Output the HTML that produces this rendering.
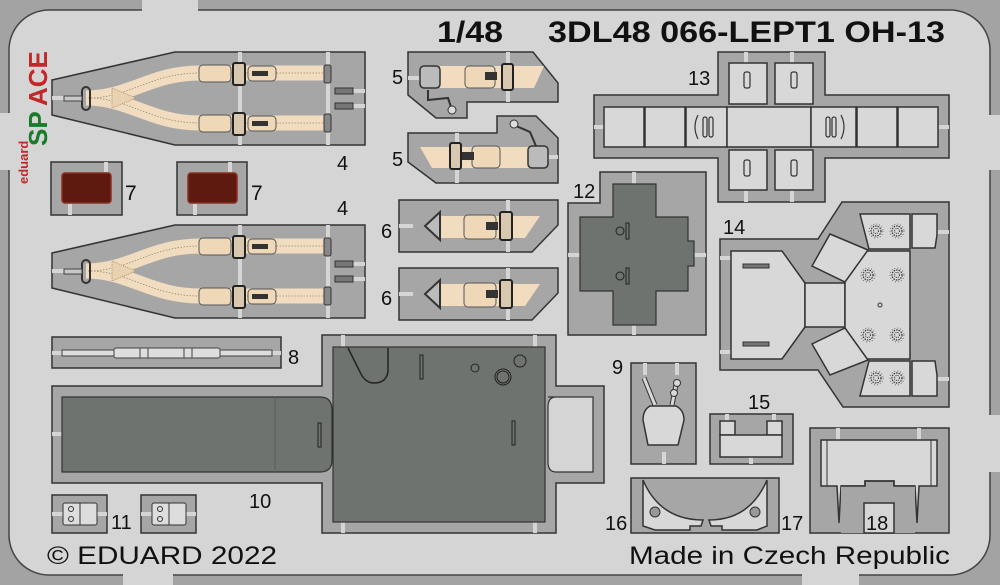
<!DOCTYPE html>
<html><head><meta charset="utf-8"><style>
html,body{margin:0;padding:0;background:#d5d5d5;}
svg{display:block;}
text{font-family:"Liberation Sans",sans-serif;fill:#111;}
</style></head><body>
<svg width="1000" height="585" viewBox="0 0 1000 585" xmlns="http://www.w3.org/2000/svg">
<defs>
<g id="ros"><circle r="5" fill="none" stroke="#333" stroke-width="1.2" stroke-dasharray="1.5 1"/><circle r="2.5" fill="none" stroke="#333" stroke-width="1" stroke-dasharray="1 1"/><circle r="7" fill="none" stroke="#555" stroke-width="0.8" stroke-dasharray="1 2"/></g>
<g id="belt4">
 <polygon points="52,80 175,52 365,52 365,145 175,145 52,115" fill="#a6a6a6" stroke="#333" stroke-width="1.5"/>
 <rect x="238" y="52" width="4" height="93" fill="#d5d5d5"/>
 <rect x="326" y="52" width="4" height="93" fill="#d5d5d5"/>
 <rect x="52" y="96" width="12" height="4" fill="#d5d5d5"/>
 <rect x="352" y="89" width="13" height="4" fill="#d5d5d5"/>
 <rect x="352" y="104" width="13" height="4" fill="#d5d5d5"/>
 <path d="M86,98 C130,98 150,73 200,73 L326,73" stroke="#f1dcbf" stroke-width="15" fill="none"/>
 <path d="M86,98 C130,98 150,123 200,123 L326,123" stroke="#f1dcbf" stroke-width="15" fill="none"/>
 <path d="M88,98 C130,98 150,73 200,73 L326,73 M88,98 C130,98 150,123 200,123 L326,123" stroke="#9a8a70" stroke-width="0.8" stroke-dasharray="1.5 1.5" fill="none"/>
 <polygon points="112,88 136,98 112,108" fill="#e8d2b0" stroke="#a08a6a" stroke-width="0.8" stroke-dasharray="1 1"/>
 <rect x="82" y="87" width="8" height="23" rx="4" fill="none" stroke="#333" stroke-width="2"/>
 <rect x="64" y="96" width="18" height="5" fill="#c8c8c8" stroke="#444"/>
 <rect x="199" y="65" width="32" height="17" rx="4" fill="#efd8b8" stroke="#555"/>
 <rect x="199" y="115" width="32" height="17" rx="4" fill="#efd8b8" stroke="#555"/>
 <rect x="233" y="63" width="12" height="22" rx="2" fill="#d8c8b0" stroke="#222" stroke-width="2"/>
 <rect x="233" y="113" width="12" height="22" rx="2" fill="#d8c8b0" stroke="#222" stroke-width="2"/>
 <rect x="248" y="66" width="28" height="15" rx="4" fill="#efd8b8" stroke="#555"/>
 <rect x="248" y="116" width="28" height="15" rx="4" fill="#efd8b8" stroke="#555"/>
 <rect x="252" y="71" width="16" height="5" fill="#333"/>
 <rect x="252" y="121" width="16" height="5" fill="#333"/>
 <rect x="324" y="65" width="7" height="18" rx="2" fill="#888" stroke="#333"/>
 <rect x="324" y="114" width="7" height="18" rx="2" fill="#888" stroke="#333"/>
 <rect x="335" y="88" width="18" height="6" fill="#777" stroke="#333"/>
 <rect x="335" y="103" width="18" height="6" fill="#777" stroke="#333"/>
</g>
<g id="p6">
 <polygon points="399,200 558,200 558,225 532,252 399,252" fill="#a6a6a6" stroke="#333" stroke-width="1.5"/>
 <rect x="506" y="200" width="4" height="52" fill="#d5d5d5"/>
 <rect x="399" y="224" width="14" height="4" fill="#d5d5d5"/>
 <polygon points="440,216 540,216 525,238 440,238" fill="#f1dcbf"/>
 <polygon points="425,226 440,212 440,240" fill="#bbb" stroke="#333" stroke-width="2"/>
 <rect x="464" y="215" width="32" height="24" rx="4" fill="#efd8b8" stroke="#555"/>
 <rect x="486" y="222" width="12" height="8" fill="#333"/>
 <rect x="500" y="212" width="12" height="28" rx="2" fill="#d8c8b0" stroke="#222" stroke-width="2"/>
</g>
</defs>

<!-- frame -->
<rect x="0" y="0" width="1000" height="585" fill="#a3a3a3"/>
<rect x="9" y="10" width="981" height="565" rx="40" fill="#d5d5d5" stroke="#444" stroke-width="1.5"/>
<rect x="142" y="0" width="56" height="11" fill="#d5d5d5"/>
<rect x="0" y="113" width="10" height="57" fill="#d5d5d5"/>
<rect x="989" y="115" width="11" height="55" fill="#d5d5d5"/>
<rect x="989" y="415" width="11" height="57" fill="#d5d5d5"/>
<rect x="123" y="574" width="50" height="11" fill="#d5d5d5"/>
<rect x="802" y="574" width="57" height="11" fill="#d5d5d5"/>

<!-- titles -->
<text x="437" y="42" font-size="30" font-weight="bold" textLength="66" lengthAdjust="spacingAndGlyphs">1/48</text>
<text x="548" y="42" font-size="30" font-weight="bold" textLength="397" lengthAdjust="spacingAndGlyphs">3DL48 066-LEPT1 OH-13</text>
<text x="47" y="564" font-size="25" textLength="230" lengthAdjust="spacingAndGlyphs">© EDUARD 2022</text>
<text x="629" y="564" font-size="25" textLength="321" lengthAdjust="spacingAndGlyphs">Made in Czech Republic</text>

<!-- logo -->
<g transform="translate(28,184) rotate(-90)"><text x="0" y="0" font-size="13" font-weight="bold" style="fill:#c0282a">eduard</text></g>
<g transform="translate(47,146) rotate(-90)"><text x="0" y="0" font-size="26" font-weight="bold" style="fill:#1a7a2a">SP</text></g>
<g transform="translate(47,106) rotate(-90)"><text x="0" y="0" font-size="26" font-weight="bold" style="fill:#c0282a">ACE</text></g>

<!-- parts 4 -->
<use href="#belt4"/>
<use href="#belt4" transform="translate(0,173)"/>
<text x="337" y="170" font-size="20">4</text>
<text x="337" y="215" font-size="20">4</text>

<!-- parts 7 -->
<rect x="51" y="162" width="71" height="53" fill="#a6a6a6" stroke="#333" stroke-width="1.5"/>
<rect x="104" y="162" width="4" height="10" fill="#d5d5d5"/><rect x="68" y="204" width="4" height="11" fill="#d5d5d5"/>
<rect x="62" y="173" width="49" height="30" rx="3" fill="#5e1a0e" stroke="#8a3020" stroke-width="1.5"/>
<rect x="177" y="162" width="70" height="53" fill="#a6a6a6" stroke="#333" stroke-width="1.5"/>
<rect x="228" y="162" width="4" height="10" fill="#d5d5d5"/><rect x="193" y="204" width="4" height="11" fill="#d5d5d5"/>
<rect x="188" y="173" width="49" height="30" rx="3" fill="#5e1a0e" stroke="#8a3020" stroke-width="1.5"/>
<text x="125" y="200" font-size="21">7</text>
<text x="251" y="200" font-size="21">7</text>

<!-- parts 5 -->
<polygon points="408,52 533,52 558,83 558,102 467,102 467,118 436,118 408,95" fill="#a6a6a6" stroke="#333" stroke-width="1.5"/>
<rect x="506" y="52" width="4" height="50" fill="#d5d5d5"/>
<rect x="408" y="76" width="14" height="4" fill="#d5d5d5"/>
<polygon points="440,66 544,66 534,88 440,88" fill="#f1dcbf"/>
<rect x="420" y="66" width="20" height="22" rx="4" fill="#bbb" stroke="#333" stroke-width="1.5"/>
<rect x="465" y="66" width="30" height="22" rx="4" fill="#efd8b8" stroke="#555"/>
<rect x="485" y="72" width="12" height="8" fill="#333"/>
<rect x="502" y="64" width="11" height="26" rx="2" fill="#d8c8b0" stroke="#222" stroke-width="2"/>
<path d="M428,90 L428,100 L448,98 L452,110" stroke="#333" stroke-width="2" fill="none"/>
<circle cx="452" cy="110" r="4" fill="#ddd" stroke="#333"/>
<polygon points="408,133 497,133 497,116 536,116 558,138 558,183 436,183 408,162" fill="#a6a6a6" stroke="#333" stroke-width="1.5"/>
<rect x="455" y="133" width="4" height="50" fill="#d5d5d5"/>
<rect x="544" y="155" width="14" height="4" fill="#d5d5d5"/>
<polygon points="420,147 532,147 532,168 432,168" fill="#f1dcbf"/>
<rect x="472" y="146" width="28" height="22" rx="4" fill="#efd8b8" stroke="#555"/>
<rect x="462" y="152" width="12" height="8" fill="#333"/>
<rect x="450" y="143" width="11" height="26" rx="2" fill="#d8c8b0" stroke="#222" stroke-width="2"/>
<rect x="528" y="146" width="20" height="22" rx="4" fill="#bbb" stroke="#333" stroke-width="1.5"/>
<path d="M514,125 L530,132 L536,146" stroke="#333" stroke-width="2" fill="none"/>
<circle cx="514" cy="124" r="4" fill="#ddd" stroke="#333"/>
<text x="392" y="84" font-size="20">5</text>
<text x="392" y="166" font-size="20">5</text>

<!-- parts 6 -->
<use href="#p6"/>
<use href="#p6" transform="translate(0,68)"/>
<text x="381" y="238" font-size="20">6</text>
<text x="381" y="305" font-size="20">6</text>

<!-- part 8 -->
<rect x="52" y="337" width="229" height="31" fill="#a6a6a6" stroke="#333" stroke-width="1.5"/>
<rect x="52" y="351" width="229" height="4" fill="#d5d5d5"/>
<rect x="62" y="350" width="52" height="6" fill="#ddd" stroke="#444"/>
<rect x="114" y="348" width="106" height="10" rx="2" fill="#ddd" stroke="#444"/>
<line x1="140" y1="348" x2="140" y2="358" stroke="#444"/><line x1="148" y1="348" x2="148" y2="358" stroke="#444"/>
<line x1="184" y1="348" x2="184" y2="358" stroke="#444"/><line x1="192" y1="348" x2="192" y2="358" stroke="#444"/>
<rect x="220" y="350" width="52" height="6" fill="#ddd" stroke="#444"/>
<text x="288" y="364" font-size="20">8</text>

<!-- part 10 -->
<path d="M52,386 L322,386 L322,335 L556,335 L556,386 L604,386 L604,483 L556,483 L556,533 L322,533 L322,483 L52,483 Z" fill="#a6a6a6" stroke="#333" stroke-width="1.5"/>
<rect x="341" y="335" width="4" height="12" fill="#d5d5d5"/><rect x="533" y="335" width="4" height="12" fill="#d5d5d5"/>
<rect x="341" y="522" width="4" height="11" fill="#d5d5d5"/><rect x="533" y="522" width="4" height="11" fill="#d5d5d5"/>
<rect x="52" y="432" width="10" height="4" fill="#d5d5d5"/>
<path d="M62,397 L320,397 Q332,397 332,410 L332,460 Q332,472 320,472 L62,472 Z" fill="#6e736f" stroke="#333" stroke-width="1.2"/>
<line x1="275" y1="397" x2="275" y2="472" stroke="#5a5f5b"/>
<rect x="333" y="347" width="212" height="175" fill="#6e736f" stroke="#333" stroke-width="1.2"/>
<path d="M548,397 L593,397 L593,472 L556,472 Q548,472 548,462 L548,407 Q548,397 556,397" fill="#d5d5d5" stroke="#333" stroke-width="1.2"/>
<path d="M348,348 L360,372 Q365,383 374,383 Q386,383 388,372 L388,348" fill="#6e736f" stroke="#222" stroke-width="1.5"/>
<rect x="420" y="355" width="3" height="24" fill="none" stroke="#222"/>
<rect x="318" y="423" width="3" height="24" fill="none" stroke="#222"/>
<rect x="512" y="421" width="3" height="24" fill="none" stroke="#222"/>
<circle cx="475" cy="368" r="4" fill="none" stroke="#222"/>
<circle cx="503" cy="377" r="8" fill="none" stroke="#222"/><circle cx="503" cy="377" r="6" fill="none" stroke="#222"/>
<circle cx="520" cy="361" r="6" fill="none" stroke="#222"/>
<text x="249" y="508" font-size="20">10</text>

<!-- part 11 -->
<g id="p11">
<rect x="52" y="495" width="55" height="38" fill="#a6a6a6" stroke="#333" stroke-width="1.5"/>
<rect x="52" y="512" width="55" height="4" fill="#d5d5d5"/>
<rect x="63" y="503" width="34" height="22" rx="2" fill="#ddd" stroke="#333"/>
<line x1="80" y1="503" x2="80" y2="525" stroke="#333"/>
<circle cx="71" cy="509" r="2.5" fill="none" stroke="#333"/><circle cx="71" cy="519" r="2.5" fill="none" stroke="#333"/>
</g>
<use href="#p11" transform="translate(89,0)"/>
<text x="111" y="529" font-size="20">11</text>

<!-- part 13 -->
<path d="M718,52 L825,52 L825,95 L949,95 L949,158 L825,158 L825,202 L718,202 L718,158 L594,158 L594,95 L718,95 Z" fill="#a6a6a6" stroke="#333" stroke-width="1.5"/>
<rect x="594" y="125" width="10" height="4" fill="#d5d5d5"/><rect x="939" y="125" width="10" height="4" fill="#d5d5d5"/>
<rect x="744" y="52" width="4" height="11" fill="#d5d5d5"/><rect x="790" y="52" width="4" height="11" fill="#d5d5d5"/>
<rect x="744" y="190" width="4" height="12" fill="#d5d5d5"/><rect x="790" y="190" width="4" height="12" fill="#d5d5d5"/>
<g fill="#d8d8d8" stroke="#333" stroke-width="1.5">
<rect x="604" y="107" width="40" height="40"/><rect x="645" y="107" width="40" height="40"/>
<rect x="686" y="107" width="41" height="40"/><rect x="727" y="107" width="84" height="40"/>
<rect x="811" y="107" width="45" height="40"/><rect x="857" y="107" width="40" height="40"/><rect x="898" y="107" width="40" height="40"/>
<rect x="729" y="63" width="38" height="41"/><rect x="775" y="63" width="38" height="41"/>
<rect x="729" y="150" width="38" height="40"/><rect x="775" y="150" width="38" height="40"/>
</g>
<g fill="none" stroke="#333" stroke-width="1.2">
<rect x="744" y="72" width="6" height="16" rx="2"/><rect x="791" y="72" width="6" height="16" rx="2"/>
<rect x="744" y="160" width="6" height="16" rx="2"/><rect x="791" y="160" width="6" height="16" rx="2"/>
<rect x="703" y="117" width="4" height="20" rx="2"/><rect x="709" y="117" width="4" height="20" rx="2"/>
<path d="M698,115 Q692,127 698,139"/>
<rect x="826" y="117" width="4" height="20" rx="2"/><rect x="832" y="117" width="4" height="20" rx="2"/>
<path d="M841,115 Q847,127 841,139"/>
</g>
<text x="688" y="85" font-size="20">13</text>

<!-- part 12 -->
<path d="M600,172 L706,172 L706,335 L568,335 L568,203 L600,203 Z" fill="#a6a6a6" stroke="#333" stroke-width="1.5"/>
<rect x="632" y="172" width="4" height="12" fill="#d5d5d5"/><rect x="632" y="325" width="4" height="10" fill="#d5d5d5"/>
<rect x="568" y="253" width="12" height="4" fill="#d5d5d5"/><rect x="694" y="253" width="12" height="4" fill="#d5d5d5"/>
<path d="M613,184 L656,184 L656,217 L688,217 L688,241 L694,241 L694,266 L688,266 L688,291 L656,291 L656,325 L613,325 L613,291 L580,291 L580,217 L613,217 Z" fill="#6e736f" stroke="#333" stroke-width="1.2"/>
<circle cx="620" cy="231" r="4" fill="none" stroke="#222"/><rect x="626" y="223" width="3" height="16" fill="none" stroke="#222"/>
<circle cx="620" cy="276" r="4" fill="none" stroke="#222"/><rect x="626" y="268" width="3" height="16" fill="none" stroke="#222"/>
<text x="573" y="198" font-size="20">12</text>

<!-- part 14 -->
<polygon points="720,239 818,239 842,202 949,202 949,407 843,407 818,370 720,370" fill="#a6a6a6" stroke="#333" stroke-width="1.5"/>
<rect x="720" y="256" width="11" height="4" fill="#d5d5d5"/><rect x="720" y="350" width="11" height="4" fill="#d5d5d5"/>
<rect x="937" y="230" width="12" height="4" fill="#d5d5d5"/><rect x="937" y="377" width="12" height="4" fill="#d5d5d5"/>
<g fill="#d8d8d8" stroke="#333" stroke-width="1.5">
<polygon points="731,251 782,251 805,283 805,327 782,359 731,359"/>
<rect x="805" y="283" width="40" height="44"/>
<rect x="845" y="251" width="65" height="108"/>
<polygon points="830,234 868,250 845,282 812,266"/>
<polygon points="812,344 845,328 868,360 830,375"/>
<polygon points="860,214 910,214 910,249 869,249"/>
<polygon points="912,214 937,214 937,235 935,248 912,248"/>
<polygon points="869,361 910,361 910,396 860,396"/>
<polygon points="912,361 935,361 937,375 937,396 912,396"/>
</g>
<rect x="743" y="264" width="26" height="4" fill="#777" stroke="#333"/>
<rect x="743" y="342" width="26" height="4" fill="#777" stroke="#333"/>
<use href="#ros" x="876" y="231"/><use href="#ros" x="897" y="231"/>
<use href="#ros" x="868" y="275"/><use href="#ros" x="897" y="275"/>
<use href="#ros" x="868" y="335"/><use href="#ros" x="897" y="335"/>
<use href="#ros" x="876" y="378"/><use href="#ros" x="897" y="378"/>
<circle cx="880" cy="305" r="2" fill="none" stroke="#333"/>
<text x="723" y="234" font-size="20">14</text>

<!-- part 9 -->
<rect x="631" y="363" width="65" height="101" fill="#a6a6a6" stroke="#333" stroke-width="1.5"/>
<rect x="643" y="363" width="4" height="12" fill="#d5d5d5"/><rect x="675" y="363" width="4" height="12" fill="#d5d5d5"/>
<rect x="662" y="452" width="4" height="12" fill="#d5d5d5"/>
<path d="M644,378 L655,405 M677,380 L672,405" stroke="#333" stroke-width="5"/>
<path d="M644,378 L655,405 M677,380 L672,405" stroke="#d8d8d8" stroke-width="3"/>
<circle cx="677" cy="383" r="3.5" fill="#d8d8d8" stroke="#333"/><circle cx="674" cy="393" r="3.5" fill="#d8d8d8" stroke="#333"/>
<path d="M650,406 L676,406 Q684,410 684,420 L678,445 L648,445 L643,420 Q643,410 650,406 Z" fill="#d8d8d8" stroke="#333" stroke-width="1.5"/>
<text x="612" y="374" font-size="20">9</text>

<!-- part 15 -->
<rect x="710" y="414" width="83" height="50" fill="#a6a6a6" stroke="#333" stroke-width="1.5"/>
<rect x="725" y="414" width="4" height="8" fill="#d5d5d5"/><rect x="772" y="414" width="4" height="8" fill="#d5d5d5"/>
<rect x="749" y="457" width="4" height="7" fill="#d5d5d5"/>
<rect x="720" y="421" width="15" height="14" fill="#d8d8d8" stroke="#333" stroke-width="1.5"/>
<rect x="767" y="421" width="15" height="14" fill="#d8d8d8" stroke="#333" stroke-width="1.5"/>
<rect x="720" y="435" width="62" height="22" fill="#d8d8d8" stroke="#333" stroke-width="1.5"/>
<text x="748" y="409" font-size="20">15</text>

<!-- parts 16/17 -->
<rect x="631" y="478" width="148" height="55" fill="#a6a6a6" stroke="#333" stroke-width="1.5"/>
<path d="M643,480 Q660,520 703,520 L701,526 L690,526 L690,530 L655,530 L643,526 Z" fill="#d8d8d8" stroke="#333" stroke-width="1.5"/>
<path d="M767,480 Q750,520 709,520 L711,526 L722,526 L722,530 L757,530 L767,526 Z" fill="#d8d8d8" stroke="#333" stroke-width="1.5"/>
<circle cx="655" cy="512" r="5" fill="#999" stroke="#333"/><circle cx="755" cy="512" r="5" fill="#999" stroke="#333"/>
<text x="605" y="530" font-size="20">16</text>
<text x="781" y="530" font-size="20">17</text>

<!-- part 18 -->
<rect x="810" y="428" width="139" height="105" fill="#a6a6a6" stroke="#333" stroke-width="1.5"/>
<rect x="836" y="428" width="4" height="12" fill="#d5d5d5"/><rect x="917" y="428" width="4" height="12" fill="#d5d5d5"/>
<path d="M821,440 L937,440 L937,486 L919,486 L917,523 L915,486 L894,486 L894,481 L865,481 L865,486 L841,486 L839,523 L837,486 L821,486 Z" fill="#d8d8d8" stroke="#333" stroke-width="1.5"/>
<rect x="841" y="486" width="74" height="47" fill="#a6a6a6" stroke="none"/>
<path d="M841,486 L865,486 L865,481 L894,481 L894,486 L915,486" fill="none" stroke="#333" stroke-width="1.5"/>
<rect x="864" y="503" width="30" height="30" fill="#d5d5d5" stroke="#333" stroke-width="1.5"/>
<line x1="827" y1="440" x2="827" y2="486" stroke="#333"/><line x1="931" y1="440" x2="931" y2="486" stroke="#333"/>
<text x="866" y="530" font-size="20">18</text>
</svg>
</body></html>
